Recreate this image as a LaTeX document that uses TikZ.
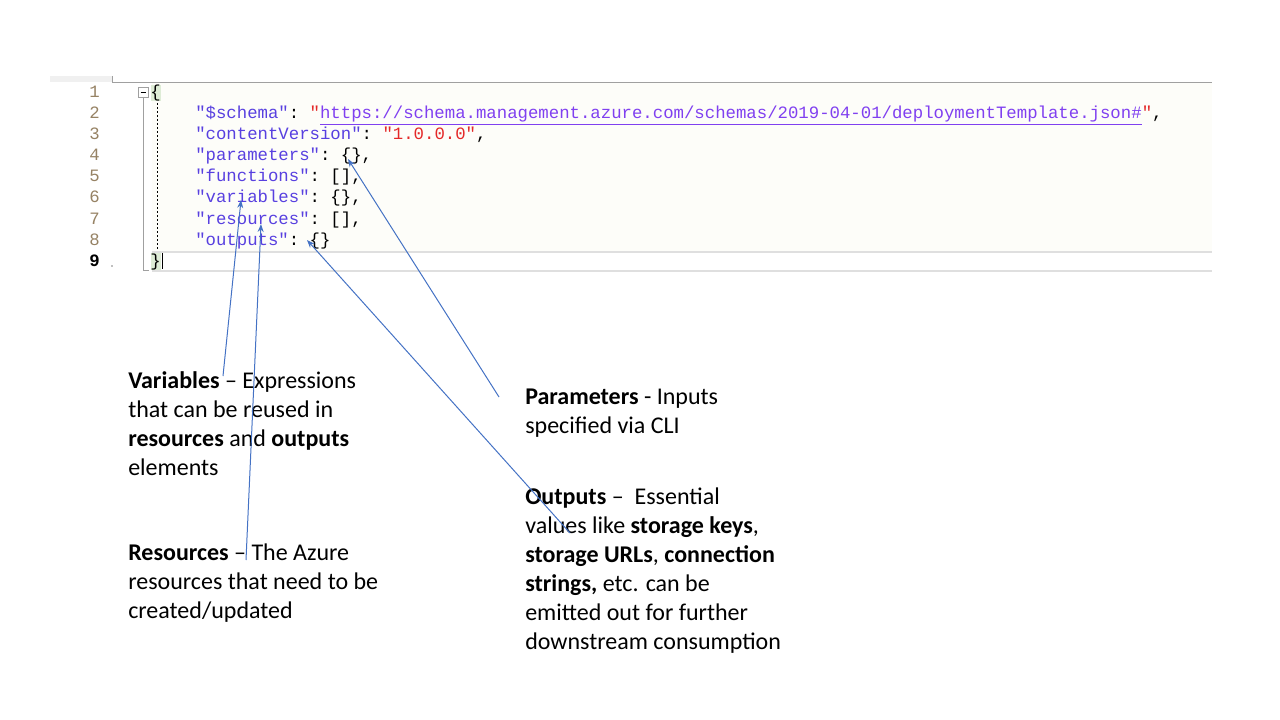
\documentclass[tikz,border=0pt]{standalone}
\usepackage{fontspec}
\setmainfont{Carlito}
\setmonofont{Liberation Mono}
\usetikzlibrary{arrows.meta}

\definecolor{keyblue}{RGB}{88,64,224}
\definecolor{urlpurple}{RGB}{128,64,240}
\definecolor{valred}{RGB}{228,40,40}
\definecolor{gutternum}{RGB}{150,130,100}
\definecolor{foldgrey}{RGB}{160,160,160}
\definecolor{bracegreen}{RGB}{222,236,214}
\definecolor{editorbg}{RGB}{253,253,249}
\definecolor{callout}{RGB}{68,114,196}

\newcommand{\jkey}[1]{\textcolor{keyblue}{"#1"}}

\tikzset{
  codeline/.style={anchor=base west, inner sep=0pt, font=\ttfamily\fontsize{13}{15}\selectfont},
  linenum/.style={anchor=base east, inner sep=0pt, text=gutternum, font=\ttfamily\fontsize{13}{15}\selectfont},
  note/.style={anchor=base west, inner sep=0pt, align=left, font=\fontsize{18}{21.75}\selectfont},
  pointer/.style={draw=callout, line width=0.75pt, -{Stealth[length=6pt,width=4.5pt]}},
}

\begin{document}
\begin{tikzpicture}[x=0.75pt,y=-0.75pt]
			\useasboundingbox (0,0) rectangle (1280,720);

			% editor window
			\fill[gray!12] (50,76) rectangle (1212,82);
			\fill[white] (112,76) rectangle (1212,82);
			\draw[foldgrey] (112,76) -- (112,82) -- (1212,82);
			\fill[editorbg] (152,83) rectangle (1212,272);
			\fill[white] (152,252) rectangle (1212,271);
			\draw[gray!25, line width=1.5pt] (152,252) -- (1212,252);
			\draw[gray!25, line width=1.5pt] (152,271) -- (1212,271);
			\fill[bracegreen] (151,85) rectangle (161,101);
			\fill[bracegreen] (151,253) rectangle (161,270);
			\draw[foldgrey] (138,87) rectangle (148,97);
			\draw (140.5,92) -- (145.5,92);
			\draw[foldgrey] (143,97) -- (143,270) -- (149,270);
			\draw[dash pattern=on 1.5pt off 1.5pt] (157,103) -- (157,250);
			\draw[line width=0.75pt] (162,253) -- (162,269);
			\fill[gray] (112,266) circle (0.7pt);

			\node (n1)[linenum] at (100,98)  {1};
			\node (n2)[linenum] at (100,119) {2};
			\node (n3)[linenum] at (100,140) {3};
			\node (n4)[linenum] at (100,161) {4};
			\node (n5)[linenum] at (100,182) {5};
			\node (n6)[linenum] at (100,203) {6};
			\node (n7)[linenum] at (100,224) {7};
			\node (n8)[linenum] at (100,245) {8};
			\node (n9)[linenum, text=black] at (100,266) {\bfseries 9};

			\node (l1)[codeline] at (150,98)  {\{};
			\node (l2)[codeline] at (195,119) {\jkey{\$schema}: \textcolor{valred}{"}\textcolor{urlpurple}{\underline{https://schema.management.azure.com/schemas/2019-04-01/deploymentTemplate.json\#}}\textcolor{valred}{"},};
			\node (l3)[codeline] at (195,140) {\jkey{contentVersion}: \textcolor{valred}{"1.0.0.0"},};
			\node (l4)[codeline] at (195,161) {\jkey{parameters}: \{\},};
			\node (l5)[codeline] at (195,182) {\jkey{functions}: [],};
			\node (l6)[codeline] at (195,203) {\jkey{variables}: \{\},};
			\node (l7)[codeline] at (195,224) {\jkey{resources}: [],};
			\node (l8)[codeline] at (195,245) {\jkey{outputs}: \{\}};
			\node (l9)[codeline] at (150,266) {\}};

			% notes (base = last line)
			\node (vars)[note] at (128,475) {\textbf{Variables} – Expressions\\that can be reused in\\\textbf{resources} and \textbf{outputs}\\elements};
			\node (res)[note] at (128,618) {\textbf{Resources} – The Azure\\resources that need to be\\created/updated};
			\node (params)[note] at (525,433) {\textbf{Parameters} - Inputs\\specified via CLI};
			\node (outs)[note] at (525,649) {\textbf{Outputs} –\ \ Essential\\values like \textbf{storage keys},\\\textbf{storage URLs}, \textbf{connection}\\\textbf{strings,} etc. can be\\emitted out for further\\downstream consumption};

			\coordinate (varsTail) at (223,376);
			\coordinate (varsTip) at (241,200);
			\coordinate (resTail) at (246,560);
			\coordinate (resTip) at (261,224);
			\coordinate (paramsTail) at (499,397);
			\coordinate (paramsTip) at (348,159);
			\coordinate (outsTail) at (570,533);
			\coordinate (outsTip) at (307,240);

			\draw[pointer] (varsTail) -- (varsTip);
			\draw[pointer] (resTail) -- (resTip);
			\draw[pointer] (paramsTail) -- (paramsTip);
			\draw[pointer] (outsTail) -- (outsTip);
		\end{tikzpicture}
\end{document}
